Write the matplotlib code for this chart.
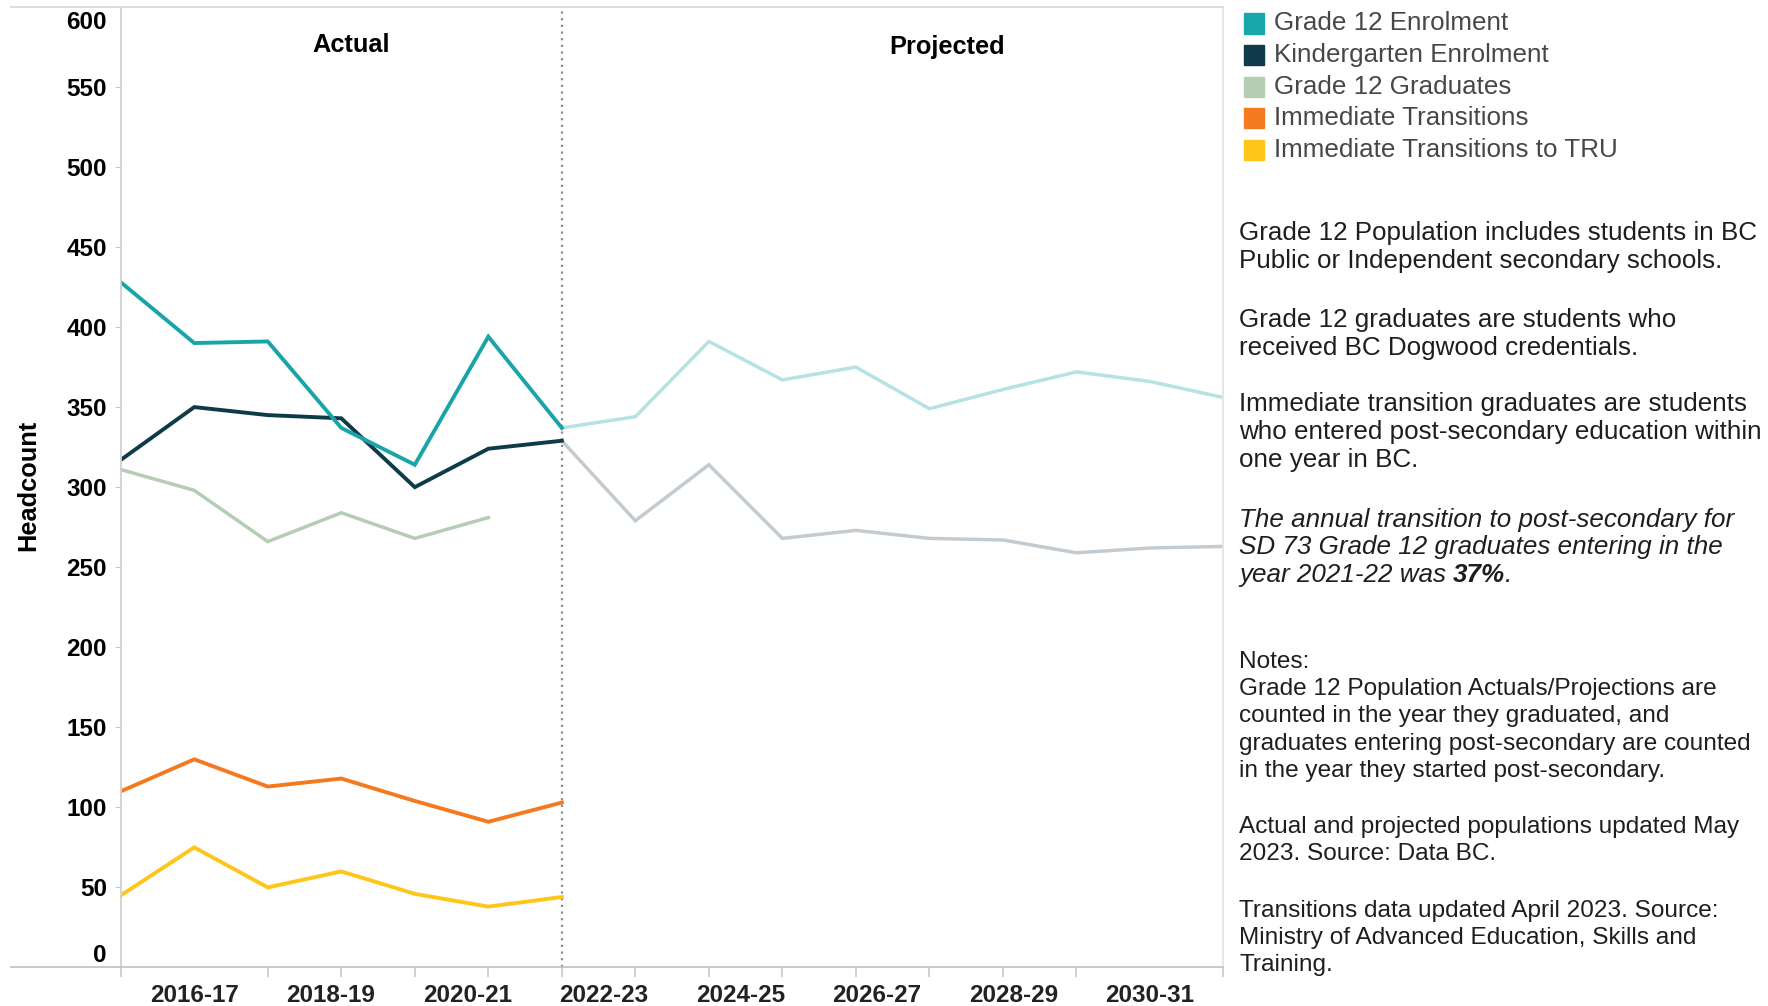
import matplotlib.pyplot as plt
import numpy as np
from matplotlib.lines import Line2D
from matplotlib.patches import Rectangle
from matplotlib.transforms import ScaledTranslation

plt.rcParams['font.family'] = ['Liberation Sans', 'DejaVu Sans']

# school years 2015-16 .. 2030-31 on an index axis
year_labels = ['2016-17', '2018-19', '2020-21', '2022-23',
               '2024-25', '2026-27', '2028-29', '2030-31']
actual_idx = np.arange(0, 7)
grad_idx = np.arange(0, 6)
proj_idx = np.arange(6, 16)

grade12_actual = [428, 390, 391, 337, 314, 394, 337]
kinder_actual = [317, 350, 345, 343, 300, 324, 329]
graduates = [311, 298, 266, 284, 268, 281]
transitions = [110, 130, 113, 118, 104, 91, 103]
transitions_tru = [45, 75, 50, 60, 46, 38, 44]
grade12_proj = [337, 344, 391, 367, 375, 349, 361, 372, 366, 356]
kinder_proj = [329, 279, 314, 268, 273, 268, 267, 259, 262, 263]

legend_names = ['Grade 12 Enrolment', 'Kindergarten Enrolment', 'Grade 12 Graduates',
                'Immediate Transitions', 'Immediate Transitions to TRU']
legend_colors = ['#1aa7ac', '#0e3a4a', '#b4cdb4', '#f57a1f', '#ffc61a']

notes_top = [
    ['Grade 12 Population includes students in BC',
     'Public or Independent secondary schools.'],
    ['Grade 12 graduates are students who',
     'received BC Dogwood credentials.'],
    ['Immediate transition graduates are students',
     'who entered post-secondary education within',
     'one year in BC.'],
]
italic_note = ['The annual transition to post-secondary for',
               'SD 73 Grade 12 graduates entering in the',
               'year 2021-22 was']
rate_text = '37%'
notes_bottom = [
    ['Notes:',
     'Grade 12 Population Actuals/Projections are',
     'counted in the year they graduated, and',
     'graduates entering post-secondary are counted',
     'in the year they started post-secondary.'],
    ['Actual and projected populations updated May',
     '2023. Source: Data BC.'],
    ['Transitions data updated April 2023. Source:',
     'Ministry of Advanced Education, Skills and',
     'Training.'],
]

W, H = 1768, 1006
fig = plt.figure(figsize=(W / 100, H / 100), dpi=100)
ax = fig.add_axes([0.0683, 0.0383, 0.6237, 0.9549])


def fy(px):
    return 1 - px / H


def fx(px):
    return px / W


lw_main = 2.8
ax.plot(proj_idx, grade12_proj, color='#b5e2e3', lw=2.5, solid_joinstyle='miter')
ax.plot(proj_idx, kinder_proj, color='#c3cbd0', lw=2.5, solid_joinstyle='miter')
ax.plot(grad_idx, graduates, color='#b4cdb4', lw=2.5, solid_joinstyle='miter')
ax.plot(actual_idx, transitions_tru, color='#ffc61a', lw=lw_main, solid_joinstyle='miter')
ax.plot(actual_idx, transitions, color='#f47a1f', lw=lw_main, solid_joinstyle='miter')
ax.plot(actual_idx, kinder_actual, color='#0e3a4a', lw=lw_main, solid_joinstyle='miter')
ax.plot(actual_idx, grade12_actual, color='#19a5a8', lw=lw_main, solid_joinstyle='miter')

ax.axvline(6, color='#8c8c8c', ls=(0, (1, 2)), lw=1.6, zorder=0)

ax.set_xlim(0, 15)
ax.set_ylim(0, 600)

ax.text(3.14, 576, 'Actual', ha='center', va='center', fontsize=18.3, fontweight='bold')
ax.text(11.24, 575, 'Projected', ha='center', va='center', fontsize=18.3, fontweight='bold')

# axes frame
for side, col in [('left', '#d0d0d0'), ('bottom', '#c4c4c4'),
                  ('top', '#dadada'), ('right', '#e4e4e4')]:
    ax.spines[side].set_color(col)
    ax.spines[side].set_linewidth(1.3)
fig.add_artist(Line2D([fx(11), 0.0683], [0.0383, 0.0383], color='#c4c4c4', lw=1.3))
fig.add_artist(Line2D([fx(11), 0.0683], [0.9932, 0.9932], color='#dadada', lw=1.3))

ax.set_yticks(np.arange(0, 601, 50))
ax.tick_params(axis='y', length=4, color='#c8c8c8', pad=6, labelsize=17.5)
for lab in ax.get_yticklabels():
    lab.set_fontweight('bold')
yticks = ax.yaxis.get_major_ticks()
top_lab = yticks[-1].label1
top_lab.set_verticalalignment('top')
top_lab.set_transform(top_lab.get_transform() + ScaledTranslation(0, -0.04, fig.dpi_scale_trans))
yticks[0].label1.set_verticalalignment('bottom')

ax.set_xticks(np.linspace(1, 14, len(year_labels)))
ax.set_xticklabels(year_labels, fontsize=17.5, fontweight='bold', color='#222222')
ax.set_xticks(np.arange(0, 16), minor=True)
ax.tick_params(axis='x', which='major', length=0, pad=12)
ax.tick_params(axis='x', which='minor', length=7, color='#c8c8c8', width=1.2)

fig.text(fx(28), fy(485), 'Headcount', rotation=90, ha='center', va='center',
         fontsize=18.3, fontweight='bold')

# legend
for i, (name, col) in enumerate(zip(legend_names, legend_colors)):
    yc = 23.5 + 31.6 * i
    fig.add_artist(Rectangle((fx(1244), fy(yc + 10)), 20 / W, 20 / H,
                             color=col, transform=fig.transFigure))
    fig.text(fx(1274), fy(yc), name, ha='left', va='center', fontsize=18.7, color='#474747')

# notes panel
note_x = fx(1239)
note_color = '#1e1e1e'
for start, para in zip([233, 320, 404.5], notes_top):
    for j, line in enumerate(para):
        fig.text(note_x, fy(start + 27.8 * j), line, ha='left', va='center',
                 fontsize=18.7, color=note_color)

last = None
for j, line in enumerate(italic_note):
    last = fig.text(note_x, fy(519.5 + 27.8 * j), line, ha='left', va='center',
                    fontsize=18.7, color=note_color, style='italic')
rate = ax.annotate(rate_text, xy=(1, 0), xycoords=last, xytext=(5.2, 0),
                   textcoords='offset points', ha='left', va='bottom',
                   fontsize=18.7, color=note_color, style='italic', fontweight='bold',
                   annotation_clip=False)
ax.annotate('.', xy=(1, 0), xycoords=rate, ha='left', va='bottom',
            fontsize=18.7, color=note_color, style='italic', annotation_clip=False)

for start, para in zip([661.5, 827, 910.5], notes_bottom):
    for j, line in enumerate(para):
        fig.text(note_x, fy(start + 27.4 * j), line, ha='left', va='center',
                 fontsize=17.6, color=note_color)

fig.savefig('out.png', dpi=100)
